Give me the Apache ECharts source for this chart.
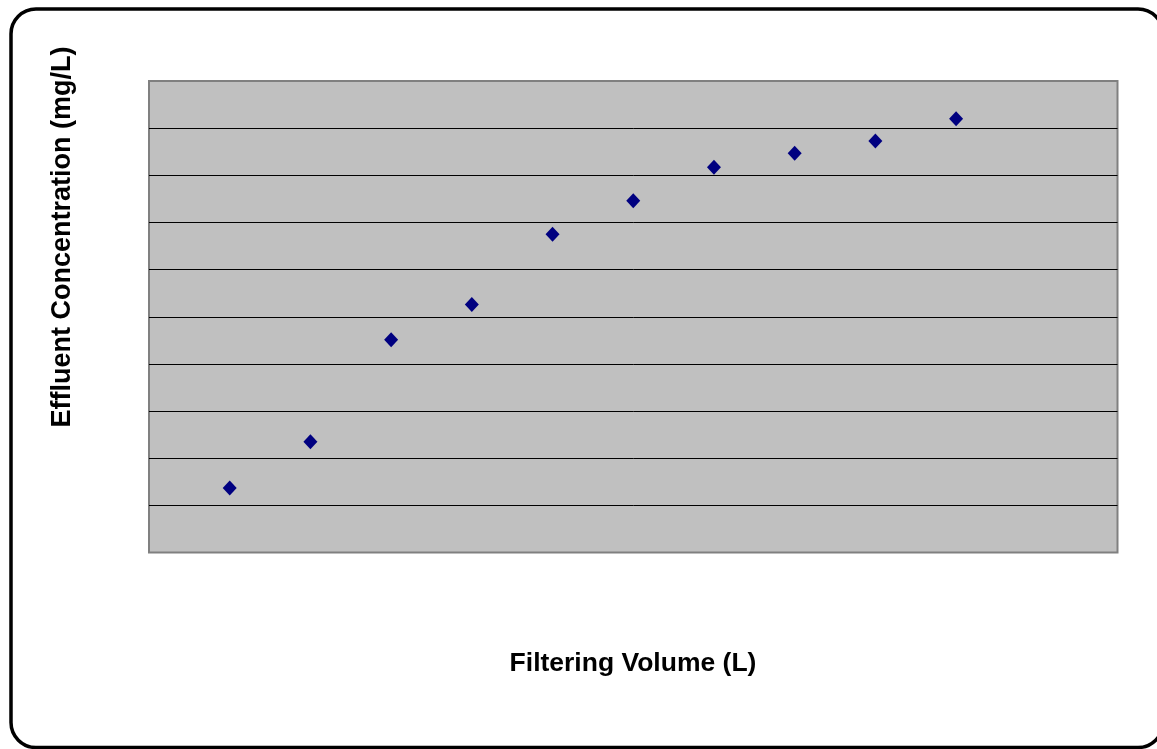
<!DOCTYPE html>
<html>
<head>
<meta charset="utf-8">
<script src="https://cdn.jsdelivr.net/npm/echarts@6/dist/echarts.min.js"></script>
<style>
  html, body { margin: 0; padding: 0; background: #ffffff; }
  #chart { width: 1157px; height: 749px; }
</style>
</head>
<body>
<div id="chart"></div>
<script>
// Filtering volume (L) and effluent concentration readings
const filteringVolume = [1, 2, 3, 4, 5, 6, 7, 8, 9, 10];
const effluentConcentration = [1.37, 2.35, 4.51, 5.26, 6.75, 7.46, 8.17, 8.47, 8.73, 9.2];

const xTitle = 'Filtering Volume (L)';
const yTitle = 'Effluent Concentration (mg/L)';

const points = filteringVolume.map((v, i) => [v, effluentConcentration[i]]);

const chart = echarts.init(document.getElementById('chart'), null, { renderer: 'canvas' });

chart.setOption({
  animation: false,
  backgroundColor: '#ffffff',
  grid: {
    left: 149,
    top: 81,
    width: 968.5,
    height: 471.5,
    show: true,
    backgroundColor: '#c0c0c0',
    borderColor: '#808080',
    borderWidth: 2
  },
  xAxis: {
    type: 'value',
    min: 0,
    max: 12,
    interval: 1,
    axisLine: { show: false },
    axisTick: { show: false },
    axisLabel: { show: false },
    splitLine: { show: false }
  },
  yAxis: {
    type: 'value',
    min: 0,
    max: 10,
    interval: 1,
    axisLine: { show: false },
    axisTick: { show: false },
    axisLabel: { show: false },
    splitLine: {
      show: true,
      showMinLine: false,
      showMaxLine: false,
      lineStyle: { color: '#000000', width: 1 }
    }
  },
  series: [{
    type: 'scatter',
    data: points,
    symbol: 'diamond',
    symbolSize: [14, 15],
    itemStyle: { color: '#000080', opacity: 1 }
  }],
  graphic: [
    {
      type: 'rect',
      shape: { x: 11, y: 9, width: 1152, height: 738.5, r: 25 },
      style: { fill: null, stroke: '#000000', lineWidth: 3.5 },
      z: 100
    },
    {
      type: 'text',
      x: 633,
      y: 664,
      style: {
        text: xTitle,
        font: 'bold 26.5px "Liberation Sans", Arial, sans-serif',
        fill: '#000000',
        textAlign: 'center',
        textVerticalAlign: 'middle'
      }
    },
    {
      type: 'text',
      x: 63,
      y: 237,
      rotation: Math.PI / 2,
      style: {
        text: yTitle,
        font: 'bold 27px "Liberation Sans", Arial, sans-serif',
        fill: '#000000',
        textAlign: 'center',
        textVerticalAlign: 'middle'
      }
    }
  ]
});
</script>
</body>
</html>
